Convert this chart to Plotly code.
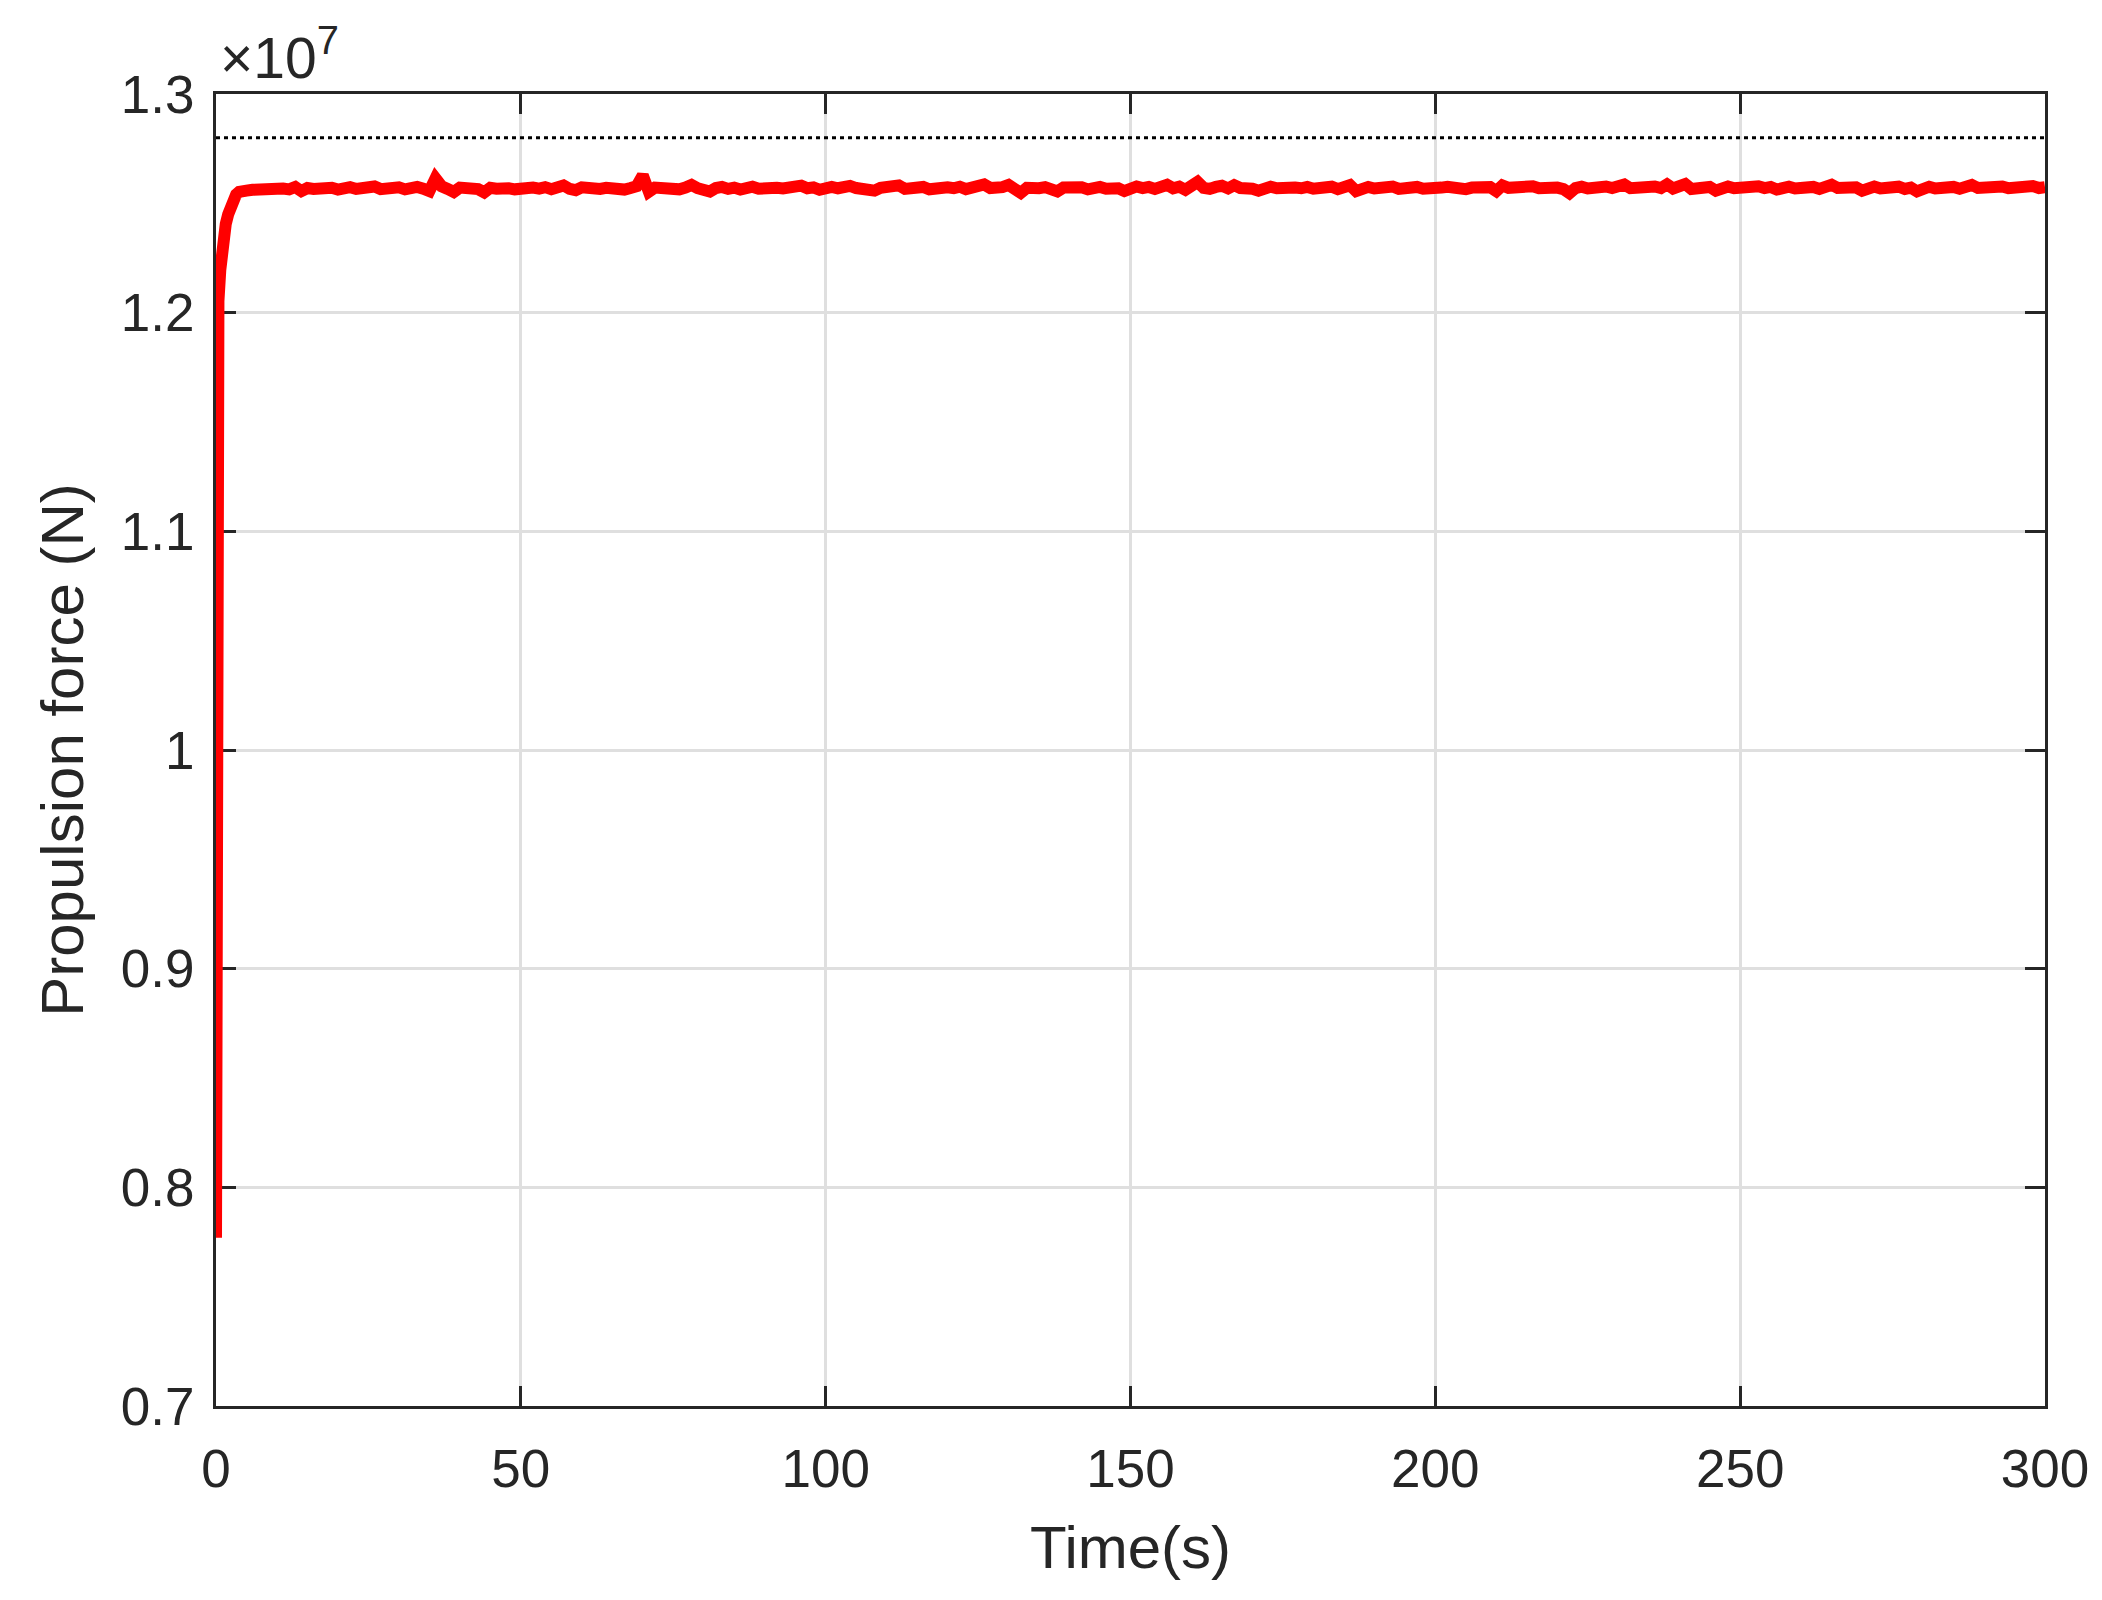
import plotly.graph_objects as go

# time (s) and propulsion force (units of 1e7 N)
rise_time = [0, 0.01, 0.03, 0.06, 0.1, 0.2, 0.4, 0.7, 1.0, 1.3, 1.6, 2.0, 2.4, 2.8, 3.3, 3.8, 4.4]
rise_force = [0.777, 0.95, 1.10, 1.16, 1.183, 1.196, 1.2053, 1.2195, 1.230, 1.2358, 1.2405,
              1.2450, 1.2490, 1.2515, 1.2540, 1.2552, 1.2560]

steady_time = list(range(5, 301))
steady_force = [
    1.2558, 1.2562, 1.2565, 1.2561, 1.2566, 1.2563, 1.2568, 1.2564, 1.2575, 1.2556,
    1.2570, 1.2566, 1.2572, 1.2567, 1.2571, 1.2563, 1.2569, 1.2574, 1.2566, 1.2570,
    1.2567, 1.2577, 1.2565, 1.2571, 1.2568, 1.2573, 1.2564, 1.2570, 1.2575, 1.2567,
    1.2556, 1.2614, 1.2578, 1.2566, 1.2552, 1.2572, 1.2568, 1.2575, 1.2565, 1.2550,
    1.2571, 1.2567, 1.2573, 1.2569, 1.2564, 1.2570, 1.2566, 1.2572, 1.2567, 1.2574,
    1.2565, 1.2571, 1.2582, 1.2566, 1.2560, 1.2573, 1.2568, 1.2574, 1.2566, 1.2571,
    1.2567, 1.2576, 1.2563, 1.2570, 1.2578, 1.2628, 1.2553, 1.2572, 1.2567, 1.2575,
    1.2568, 1.2564, 1.2572, 1.2584, 1.2569, 1.2561, 1.2554, 1.2570, 1.2575, 1.2566,
    1.2572, 1.2563, 1.2570, 1.2576, 1.2567, 1.2572, 1.2565, 1.2571, 1.2568, 1.2574,
    1.2566, 1.2581, 1.2569, 1.2573, 1.2562, 1.2571,
    1.2575, 1.2569, 1.2573, 1.2580, 1.2570, 1.2567, 1.2574, 1.2558, 1.2571, 1.2576,
    1.2569, 1.2582, 1.2566, 1.2572, 1.2570, 1.2575, 1.2564, 1.2571, 1.2567, 1.2573,
    1.2569, 1.2576, 1.2565, 1.2572, 1.2568, 1.2586, 1.2570, 1.2566, 1.2574, 1.2584,
    1.2563, 1.2548, 1.2571, 1.2577, 1.2569, 1.2574, 1.2566, 1.2555, 1.2572, 1.2576,
    1.2568, 1.2573, 1.2564, 1.2571, 1.2575, 1.2567, 1.2573, 1.2569, 1.2556, 1.2572,
    1.2577, 1.2570, 1.2575, 1.2566, 1.2573, 1.2585, 1.2569, 1.2576, 1.2562, 1.2578,
    1.2598, 1.2571, 1.2566, 1.2575, 1.2580, 1.2568, 1.2583, 1.2570, 1.2574, 1.2567,
    1.2558, 1.2572, 1.2576, 1.2569, 1.2574, 1.2566, 1.2572, 1.2569, 1.2575, 1.2567,
    1.2573, 1.2570, 1.2576, 1.2565, 1.2572, 1.2583, 1.2556, 1.2571, 1.2575, 1.2568,
    1.2574, 1.2570, 1.2577, 1.2566, 1.2572, 1.2569, 1.2575, 1.2567, 1.2573, 1.2569,
    1.2572, 1.2576, 1.2568, 1.2574, 1.2565, 1.2572, 1.2577, 1.2569, 1.2574, 1.2556,
    1.2582, 1.2571, 1.2575, 1.2566, 1.2573, 1.2578, 1.2569, 1.2574, 1.2567, 1.2572,
    1.2565, 1.2546, 1.2570, 1.2576, 1.2568, 1.2574, 1.2567, 1.2577, 1.2570, 1.2575,
    1.2586, 1.2569, 1.2574, 1.2566, 1.2572, 1.2577, 1.2570, 1.2587, 1.2568, 1.2573,
    1.2588, 1.2566, 1.2573, 1.2569, 1.2575, 1.2558, 1.2572, 1.2577, 1.2569, 1.2574,
    1.2567, 1.2573, 1.2578, 1.2570, 1.2575, 1.2563, 1.2572, 1.2576, 1.2568, 1.2574,
    1.2569, 1.2575, 1.2566, 1.2572, 1.2585, 1.2570, 1.2575, 1.2567, 1.2573, 1.2558,
    1.2571, 1.2577, 1.2568, 1.2574, 1.2570, 1.2576, 1.2566, 1.2572, 1.2555, 1.2571,
    1.2576, 1.2568, 1.2574, 1.2570, 1.2575, 1.2567, 1.2573, 1.2584, 1.2570, 1.2574,
    1.2566, 1.2572, 1.2577, 1.2569, 1.2574, 1.2567, 1.2573, 1.2579, 1.2570, 1.2574,
]

reference_time = [0, 300]
reference_force = [1.28, 1.28]

y_ticks = [0.7, 0.8, 0.9, 1.0, 1.1, 1.2, 1.3]
y_ticktext = ["0.7", "0.8", "0.9", "1", "1.1", "1.2", "1.3"]

ink = "#262626"
font = "Liberation Sans, Arial, Helvetica, sans-serif"

fig = go.Figure()
fig.add_trace(go.Scatter(
    x=reference_time, y=reference_force, mode="lines",
    line=dict(color="black", width=3, dash="4px,4px"),
    showlegend=False,
))
fig.add_trace(go.Scatter(
    x=rise_time + steady_time, y=rise_force + steady_force, mode="lines",
    line=dict(color="#ff0000", width=12),
    showlegend=False,
))

axis_common = dict(
    showline=True, linecolor=ink, linewidth=3, mirror="ticks",
    ticks="inside", ticklen=20, tickwidth=3, tickcolor=ink,
    showgrid=True, gridcolor="#dfdfdf", gridwidth=3,
    zeroline=False, layer="below traces", automargin=False,
    tickfont=dict(family=font, size=53, color=ink),
)

fig.update_xaxes(
    range=[0, 300], tickvals=[0, 50, 100, 150, 200, 250, 300],
    title=dict(text="Time(s)", font=dict(family=font, size=60, color=ink), standoff=30),
    ticklabelstandoff=14,
    **axis_common,
)
fig.update_yaxes(
    range=[0.7, 1.3], tickvals=y_ticks, ticktext=y_ticktext,
    title=dict(text="Propulsion force (N)", font=dict(family=font, size=60, color=ink), standoff=18),
    ticklabelstandoff=8,
    **axis_common,
)

fig.add_annotation(
    text="×10<sup>7</sup>", xref="paper", yref="paper", x=0.001, y=1.0,
    xanchor="left", yanchor="bottom", yshift=2, showarrow=False,
    font=dict(family=font, size=57, color=ink),
)

# the page body adds an 8px offset, so the figure is 8px smaller each way
fig.update_layout(
    width=2094, height=1592,
    margin=dict(l=208, r=57, t=86, b=194),
    paper_bgcolor="white", plot_bgcolor="white",
    font=dict(family=font, color=ink),
)

fig.write_html("out.html")
